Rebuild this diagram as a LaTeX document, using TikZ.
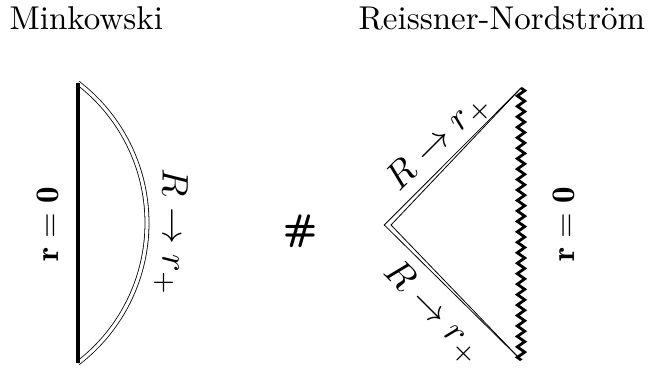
\RequirePackage{fix-cm}
\documentclass[tikz,border=0pt]{standalone}
\usepackage{fontspec}
\usetikzlibrary{decorations.pathmorphing}
\begin{document}
\begin{tikzpicture}[x=1pt,y=-1pt,
  base/.style={font=\fontsize{10}{12}\selectfont, inner sep=0pt, transform shape},
  ttl/.style={base, scale=3.3},
  lbl/.style={base, scale=3.7},
  rzero/.style={base, scale=3.3, rotate=90},
  hairline/.style={line width=0.8pt},
  dbl/.style={double, double distance=3.2pt, line width=0.8pt},
  sing/.style={line width=2.8pt, decorate,
    decoration={zigzag, segment length=10.46pt, amplitude=3.7pt}},
  origin/.style={line width=3.6pt}]
\useasboundingbox (0,0) rectangle (652,369);

% titles
\node[ttl, anchor=base west] (mink) at (9,30) {Minkowski};
\node[ttl, anchor=base west] (rn) at (358,30) {Reissner-Nordström};

% Minkowski piece
\coordinate (mt) at (78,83);
\coordinate (mb) at (78,363);
\draw[dbl] plot[domain=-52.5:52.5, samples=90] ({-29.5+176.5*cos(\x)},{223+176.5*sin(\x)});
\draw[origin] (mt) -- (mb);
\node[rzero] (rz1) at (48,224) {$\mathbf{r=0}$};
\node[lbl, rotate=-90] (lm) at (171,232) {$R\to r_+$};

% connected sum sign
\node[base, scale=3.7, font=\fontsize{10}{12}\selectfont\sffamily\bfseries] (hash) at (300.5,231.5) {\#};

% Reissner-Nordstrom piece
\coordinate (tr) at (521,88);
\coordinate (br) at (521,360);
\coordinate (vo) at (384.3,225);
\coordinate (vi) at (391,225);
\draw[hairline, line join=miter] (tr) -- (vo) -- (br);
\draw[hairline, line join=miter] (tr) -- (vi) -- (br);
\draw[sing] (tr) -- (br);
\node[lbl, rotate=45] (lu) at (439,142) {$R\to r_+$};
\node[lbl, rotate=-45] (ll) at (433,313) {$R\to r_+$};
\node[rzero] (rz2) at (564,224) {$\mathbf{r=0}$};
\end{tikzpicture}
\end{document}
